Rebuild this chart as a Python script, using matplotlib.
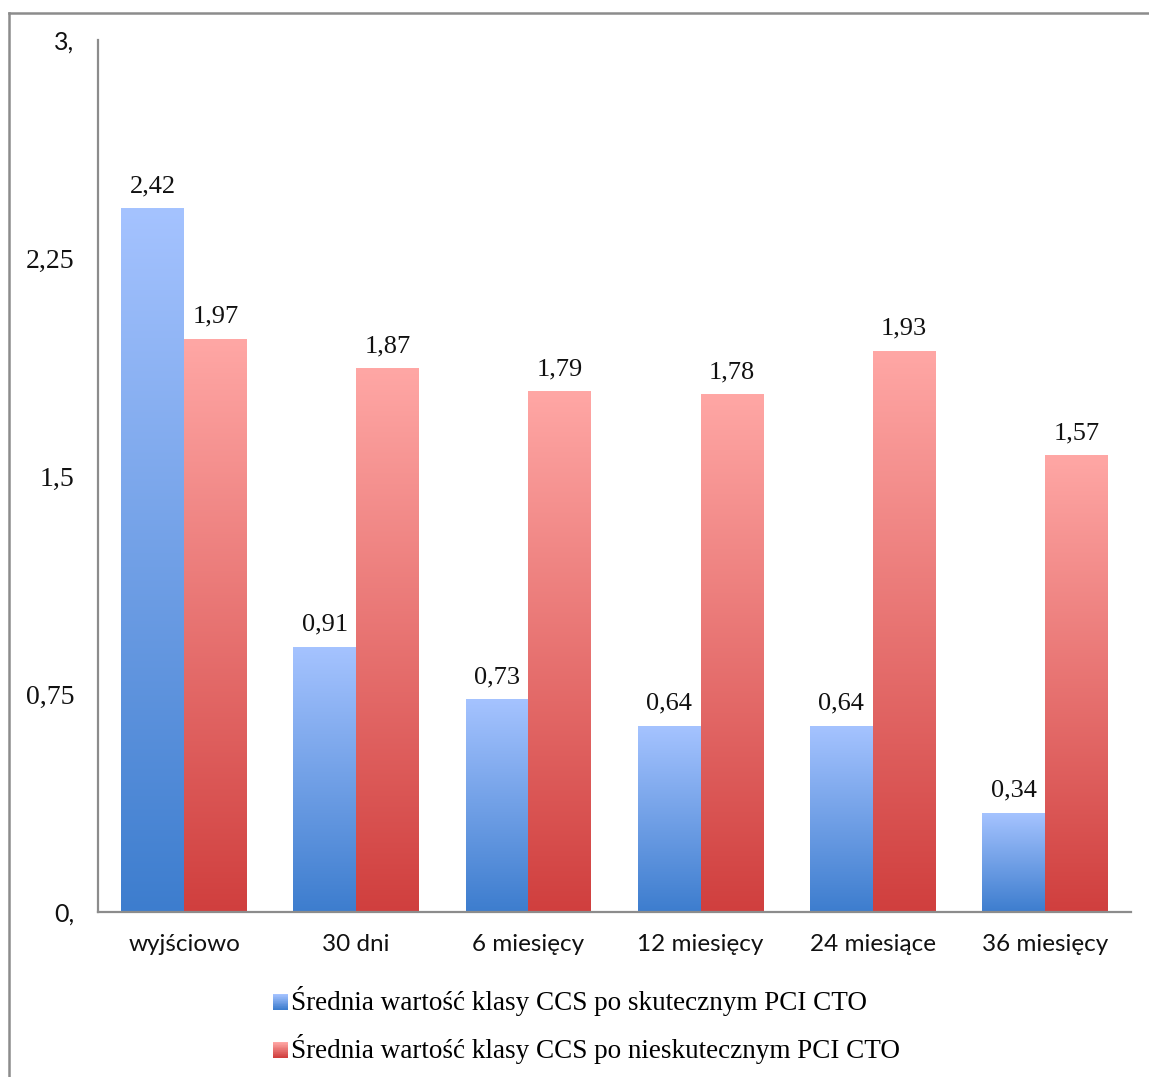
import numpy as np
import matplotlib
matplotlib.use("Agg")
import matplotlib.pyplot as plt
from matplotlib.colors import LinearSegmentedColormap
from matplotlib.legend_handler import HandlerBase
from matplotlib.patches import Rectangle
from matplotlib.lines import Line2D

categories = ["wyjściowo", "30 dni", "6 miesięcy", "12 miesięcy", "24 miesiące", "36 miesięcy"]
success = [2.42, 0.91, 0.73, 0.64, 0.64, 0.34]
failure = [1.97, 1.87, 1.79, 1.78, 1.93, 1.57]
series_names = ["Średnia wartość klasy CCS po skutecznym PCI CTO",
                "Średnia wartość klasy CCS po nieskutecznym PCI CTO"]
yticks = [0, 0.75, 1.5, 2.25, 3.0]
ytick_labels = ["0,", "0,75", "1,5", "2,25", "3,"]

# gradient colours: (top, bottom)
blue = ("#a5c3ff", "#3d7dce")
red = ("#ffa7a5", "#d03f3e")

SANS = "Lato"
SERIF = "Liberation Serif"

fig = plt.figure(figsize=(11.49, 10.77), dpi=100)
ax = fig.add_axes([0.0853, 0.1532, 0.8990, 0.8092])

x = np.arange(len(categories))
w = 0.365
bars_s = ax.bar(x - w / 2, success, w, color="none", linewidth=0)
bars_f = ax.bar(x + w / 2, failure, w, color="none", linewidth=0)


def fill_gradient(bars, cols):
    cmap = LinearSegmentedColormap.from_list("g", [cols[1], cols[0]])
    grad = np.linspace(0, 1, 256).reshape(-1, 1)
    for b in bars:
        x0, y0 = b.get_x(), b.get_y()
        bw, bh = b.get_width(), b.get_height()
        ax.imshow(grad, cmap=cmap, origin="lower", aspect="auto",
                  extent=[x0, x0 + bw, y0, y0 + bh], interpolation="bilinear",
                  zorder=2)


fill_gradient(bars_s, blue)
fill_gradient(bars_f, red)


def fmt(v):
    return f"{v:.2f}".replace(".", ",")


for bars, vals in ((bars_s, success), (bars_f, failure)):
    for b, v in zip(bars, vals):
        ax.annotate(fmt(v), (b.get_x() + b.get_width() / 2, v),
                    xytext=(0, 8.5), textcoords="offset points",
                    ha="center", va="bottom", fontsize=19, family=SERIF,
                    color="#111111")

ax.set_xlim(-0.5, len(categories) - 0.5)
ax.set_ylim(0, 3.0)
ax.set_yticks(yticks)
ax.set_yticklabels(ytick_labels)
for lbl, t in zip(ax.get_yticklabels(), ytick_labels):
    if t in ("0,", "3,"):
        lbl.set_family(SANS)
        lbl.set_fontsize(18)
    else:
        lbl.set_family(SERIF)
        lbl.set_fontsize(20)
ax.set_xticks(x)
ax.set_xticklabels(categories, fontsize=17.5, family=SANS)
ax.tick_params(axis="y", length=0, pad=17, colors="#111111")
ax.tick_params(axis="x", length=0, pad=16, colors="#111111")

for s in ("top", "right"):
    ax.spines[s].set_visible(False)
for s in ("left", "bottom"):
    ax.spines[s].set_color("#8c8c8c")
    ax.spines[s].set_linewidth(1.6)


class GradientSquare(HandlerBase):
    def __init__(self, cols):
        super().__init__()
        self.cols = cols

    def create_artists(self, legend, orig_handle, xdescent, ydescent,
                       width, height, fontsize, trans):
        n = 24
        size = 11.2
        x0 = -xdescent + width - size
        y0 = -ydescent + (height - size) / 2 - 1.0
        cmap = LinearSegmentedColormap.from_list("g", [self.cols[1], self.cols[0]])
        arts = []
        for i in range(n):
            r = Rectangle((x0, y0 + i * size / n), size, size / n + 0.05,
                          facecolor=cmap(i / (n - 1)), edgecolor="none",
                          transform=trans)
            arts.append(r)
        return arts


h1 = Line2D([], [])
h2 = Line2D([], [])
fig.legend([h1, h2], series_names,
           handler_map={h1: GradientSquare(blue), h2: GradientSquare(red)},
           loc="upper left", bbox_to_anchor=(0.2375, 0.0845),
           frameon=False, prop={"family": SERIF, "size": 19.5},
           handlelength=0.575, handletextpad=0.11, labelspacing=0.66,
           borderpad=0, borderaxespad=0)

# outer frame (left and top edges)
fig.add_artist(Line2D([0.0075, 0.0075], [0, 0.988], transform=fig.transFigure,
                      color="#8c8c8c", linewidth=1.8))
fig.add_artist(Line2D([0.0075, 1.0], [0.988, 0.988], transform=fig.transFigure,
                      color="#8c8c8c", linewidth=1.8))

fig.savefig("out.png", dpi=100, facecolor="white")
